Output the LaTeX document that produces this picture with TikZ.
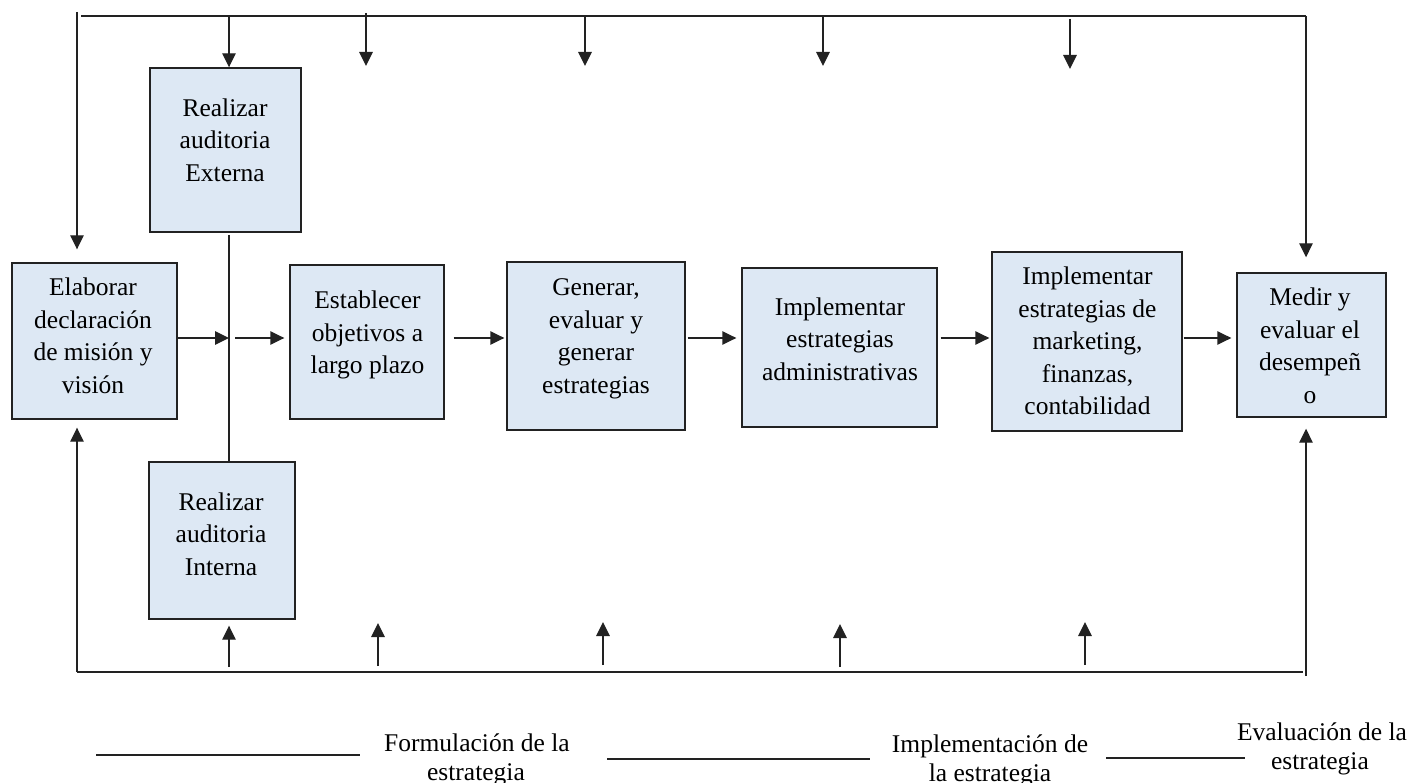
\documentclass[tikz,border=0pt]{standalone}
\usepackage{fontspec}
\setmainfont{Liberation Serif}
\usetikzlibrary{arrows.meta}
\definecolor{boxfill}{HTML}{DDE8F4}
\definecolor{lncol}{HTML}{222222}
\begin{document}
\begin{tikzpicture}[x=1pt,y=-1pt,
  ln/.style={line width=1.4pt, draw=lncol},
  arr/.style={ln, -{Triangle[width=13.5pt,length=14pt]}},
  stepbox/.style={draw=lncol, line width=1.4pt, fill=boxfill, inner sep=0pt},
  txt/.style={align=center, font=\fontsize{25.5}{32.5}\selectfont, inner sep=0pt},
  leg/.style={font=\fontsize{25.5}{30}\selectfont, inner sep=0pt, anchor=base},
]
\useasboundingbox (0,0) rectangle (1411,783);

% boxes
\node[stepbox, minimum width=151pt, minimum height=164pt] (ext) at (225.5,150) {};
\node[stepbox, minimum width=165pt, minimum height=156pt] (ela) at (94.5,341) {};
\node[stepbox, minimum width=154pt, minimum height=154pt] (est) at (367,342) {};
\node[stepbox, minimum width=178pt, minimum height=168pt] (gen) at (596,346) {};
\node[stepbox, minimum width=195pt, minimum height=159pt] (adm) at (839.5,347.5) {};
\node[stepbox, minimum width=190pt, minimum height=179pt] (mkt) at (1087,341.5) {};
\node[stepbox, minimum width=149pt, minimum height=144pt] (med) at (1311.5,345) {};
\node[stepbox, minimum width=146pt, minimum height=157pt] (int) at (222,540.5) {};

% box texts
\node[txt] (text) at (225,140) {Realizar\\auditoria\\Externa};
\node[txt] (tela) at (93,336) {Elaborar\\declaración\\de misión y\\visión};
\node[txt] (test) at (367.5,335) {Establecer\\objetivos a\\largo plazo};
\node[txt] (tgen) at (596,339) {Generar,\\evaluar y\\generar\\estrategias};
\node[txt] (tadm) at (840,339) {Implementar\\estrategias\\administrativas};
\node[txt] (tmkt) at (1087.5,341) {Implementar\\estrategias de\\marketing,\\finanzas,\\contabilidad};
\node[txt] (tmed) at (1310,346) {Medir y\\evaluar el\\desempeñ\\o};
\node[txt] (tint) at (221,534) {Realizar\\auditoria\\Interna};

% top frame
\coordinate (tlv) at (77,12);
\coordinate (tl) at (81,16);
\coordinate (tr) at (1306,16);
\draw[arr, shorten >=13pt] (tlv) -- (tlv |- ela.north);
\draw[ln] (tl) -- (tr);
\draw[arr, shorten >=15pt] (tr) -- (tr |- med.north);

% down arrows
\coordinate (d1) at (229,16);
\draw[arr] (d1) -- (d1 |- ext.north);
\coordinate (d2a) at (366,13);  \coordinate (d2b) at (366,66);
\coordinate (d3a) at (585,16);  \coordinate (d3b) at (585,66);
\coordinate (d4a) at (823,16);  \coordinate (d4b) at (823,66);
\coordinate (d5a) at (1070,19); \coordinate (d5b) at (1070,69);
\draw[arr] (d2a) -- (d2b);
\draw[arr] (d3a) -- (d3b);
\draw[arr] (d4a) -- (d4b);
\draw[arr] (d5a) -- (d5b);

% bottom frame
\coordinate (bl) at (77,672);
\coordinate (bre) at (1303,672);
\coordinate (br) at (1306,676);
\draw[ln] (bl) -- (bre);
\draw[arr, shorten >=8pt] (bl) -- (bl |- ela.south);
\draw[arr, shorten >=11pt] (br) -- (br |- med.south);

% up arrows
\coordinate (u1) at (229,667);
\draw[arr, shorten >=6pt] (u1) -- (u1 |- int.south);
\coordinate (u2a) at (378,666);  \coordinate (u2b) at (378,623);
\coordinate (u3a) at (603,665);  \coordinate (u3b) at (603,622);
\coordinate (u4a) at (840,667);  \coordinate (u4b) at (840,624);
\coordinate (u5a) at (1085,665); \coordinate (u5b) at (1085,622);
\draw[arr] (u2a) -- (u2b);
\draw[arr] (u3a) -- (u3b);
\draw[arr] (u4a) -- (u4b);
\draw[arr] (u5a) -- (u5b);

% audit connector
\coordinate (va) at (229,235);
\draw[ln] (va) -- (va |- int.north);

% main flow
\coordinate (j) at (229,338);
\draw[arr] (ela.east |- j) -- (j);
\draw[arr, shorten <=6pt, shorten >=5pt] (j) -- (j -| est.west);
\draw[arr, shorten <=9pt, shorten >=2pt] (est.east |- j) -- (gen.west |- j);
\draw[arr, shorten <=2pt, shorten >=5pt] (gen.east |- j) -- (adm.west |- j);
\draw[arr, shorten <=3pt, shorten >=2pt] (adm.east |- j) -- (mkt.west |- j);
\draw[arr, shorten <=1pt, shorten >=5pt] (mkt.east |- j) -- (med.west |- j);

% legend
\coordinate (l1a) at (96,755);   \coordinate (l1b) at (360,755);
\coordinate (l2a) at (607,759);  \coordinate (l2b) at (870,759);
\coordinate (l3a) at (1106,758); \coordinate (l3b) at (1245,758);
\draw[ln] (l1a) -- (l1b);
\draw[ln] (l2a) -- (l2b);
\draw[ln] (l3a) -- (l3b);
\node[leg] (f1) at (477,751) {Formulación de la};
\node[leg] (f2) at (476,780) {estrategia};
\node[leg] (i1) at (990,752) {Implementación de};
\node[leg] (i2) at (990,781) {la estrategia};
\node[leg] (e1) at (1322,740) {Evaluación de la};
\node[leg] (e2) at (1320,769) {estrategia};
\end{tikzpicture}
\end{document}
